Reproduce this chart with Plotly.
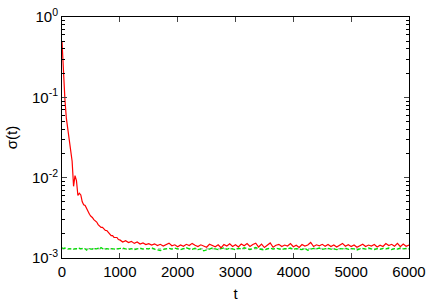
import plotly.graph_objects as go

# time grid
t_early = list(range(0, 1000, 25))
t_late = list(range(1000, 6001, 50))
t = t_early + t_late

sigma_red_early = [0.50, 0.20, 0.095, 0.055, 0.040, 0.030, 0.023, 0.016, 0.0078, 0.0106,
                   0.0092, 0.0060, 0.0064, 0.0061, 0.0050, 0.0046, 0.0045, 0.0041, 0.0038, 0.0035,
                   0.0033, 0.0032, 0.0030, 0.0029, 0.0028, 0.0026, 0.0025, 0.0024, 0.0024, 0.0023,
                   0.0022, 0.0022, 0.0021, 0.0020, 0.0019, 0.0019, 0.0018, 0.0018, 0.0018, 0.0017]
sigma_red_late = [0.00168, 0.00158, 0.00164, 0.00156, 0.00161, 0.00152, 0.00158, 0.00149, 0.00154, 0.00147,
                  0.00151, 0.00145, 0.00150, 0.00143, 0.00148, 0.00141, 0.00147, 0.00153, 0.00142, 0.00146,
                  0.00138, 0.00145, 0.00140, 0.00148, 0.00143, 0.00152, 0.00144, 0.00139, 0.00146, 0.00141,
                  0.00136, 0.00148, 0.00143, 0.00138, 0.00146, 0.00134, 0.00147, 0.00141, 0.00150, 0.00139,
                  0.00146, 0.00137, 0.00149, 0.00142, 0.00151, 0.00139, 0.00147, 0.00153, 0.00137, 0.00149,
                  0.00135, 0.00146, 0.00154, 0.00136, 0.00144, 0.00148, 0.00139, 0.00145, 0.00141, 0.00151,
                  0.00138, 0.00144, 0.00135, 0.00147, 0.00141, 0.00145, 0.00156, 0.00139, 0.00146, 0.00142,
                  0.00148, 0.00140, 0.00147, 0.00139, 0.00145, 0.00137, 0.00144, 0.00152, 0.00140, 0.00146,
                  0.00139, 0.00145, 0.00136, 0.00143, 0.00148, 0.00139, 0.00145, 0.00141, 0.00147, 0.00137,
                  0.00144, 0.00139, 0.00151, 0.00143, 0.00148, 0.00140, 0.00152, 0.00138, 0.00149, 0.00140,
                  0.00145]
sigma_red = sigma_red_early + sigma_red_late

sigma_green_early = [0.00134, 0.00131, 0.00133, 0.00130, 0.00129, 0.00131, 0.00130, 0.00132, 0.00129, 0.00130,
                     0.00131, 0.00129, 0.00132, 0.00130, 0.00131, 0.00133, 0.00130, 0.00125, 0.00130, 0.00131,
                     0.00129, 0.00130, 0.00128, 0.00131, 0.00130, 0.00132, 0.00129, 0.00135, 0.00131, 0.00130,
                     0.00129, 0.00131, 0.00130, 0.00129, 0.00131, 0.00130, 0.00131, 0.00129, 0.00130, 0.00131]
sigma_green_late = [0.00130, 0.00133, 0.00130, 0.00128, 0.00131, 0.00127, 0.00130, 0.00133, 0.00129, 0.00131,
                    0.00130, 0.00134, 0.00129, 0.00125, 0.00124, 0.00128, 0.00130, 0.00132, 0.00129, 0.00133,
                    0.00130, 0.00127, 0.00131, 0.00134, 0.00130, 0.00128, 0.00132, 0.00127, 0.00130, 0.00123,
                    0.00126, 0.00130, 0.00133, 0.00130, 0.00127, 0.00131, 0.00134, 0.00128, 0.00132, 0.00130,
                    0.00127, 0.00132, 0.00129, 0.00134, 0.00130, 0.00127, 0.00131, 0.00135, 0.00130, 0.00128,
                    0.00126, 0.00130, 0.00133, 0.00129, 0.00132, 0.00130, 0.00127, 0.00131, 0.00130, 0.00133,
                    0.00128, 0.00131, 0.00130, 0.00127, 0.00132, 0.00125, 0.00129, 0.00132, 0.00130, 0.00133,
                    0.00128, 0.00130, 0.00132, 0.00129, 0.00130, 0.00127, 0.00131, 0.00130, 0.00133, 0.00128,
                    0.00131, 0.00130, 0.00126, 0.00130, 0.00132, 0.00129, 0.00133, 0.00130, 0.00127, 0.00131,
                    0.00128, 0.00132, 0.00130, 0.00133, 0.00127, 0.00131, 0.00129, 0.00133, 0.00130, 0.00132,
                    0.00130]
sigma_green = sigma_green_early + sigma_green_late

ref_level = [0.00130, 0.00130]
ref_t = [0, 6000]

y_tickvals = [1e-3, 1e-2, 1e-1, 1e0]
y_ticktext = ["10<sup>-3</sup>", "10<sup>-2</sup>", "10<sup>-1</sup>", "10<sup>0</sup>"]
y_minor = [m * 10 ** e for e in (-3, -2, -1) for m in range(2, 10)]
x_tickvals = [0, 1000, 2000, 3000, 4000, 5000, 6000]

fig = go.Figure()
fig.add_trace(go.Scatter(x=ref_t, y=ref_level, mode="lines",
                         line=dict(color="#a0a0a0", width=1, dash="dot"), showlegend=False))
fig.add_trace(go.Scatter(x=t, y=sigma_green, mode="lines",
                         line=dict(color="#00e000", width=1.3, dash="4px,2px"), showlegend=False))
fig.add_trace(go.Scatter(x=t, y=sigma_red, mode="lines",
                         line=dict(color="#ff0000", width=1.2), showlegend=False))

font = dict(family="Liberation Sans, Arial, sans-serif", size=15, color="black")
fig.update_layout(
    width=436, height=305,
    margin=dict(l=62, r=27, t=17, b=47, autoexpand=False),
    paper_bgcolor="white", plot_bgcolor="white",
    font=font,
    xaxis=dict(range=[0, 6000], tickvals=x_tickvals, ticks="inside", ticklen=5,
               showline=True, linecolor="black", linewidth=1, mirror="ticks",
               showgrid=False, zeroline=False, automargin=False, tickfont=font,
               title=dict(text="t", standoff=9, font=font)),
    yaxis=dict(type="log", range=[-3, 0], tickvals=y_tickvals, ticktext=y_ticktext,
               ticks="inside", ticklen=5, automargin=False, tickfont=font,
               minor=dict(tickvals=y_minor, ticks="inside", ticklen=3, tickcolor="black"),
               showline=True, linecolor="black", linewidth=1, mirror="ticks",
               showgrid=False, zeroline=False,
               title=dict(text="σ(t)", standoff=10, font=font)),
)
fig.write_html("out.html", config={"displayModeBar": False},
               post_script="document.body.style.margin='0';")
